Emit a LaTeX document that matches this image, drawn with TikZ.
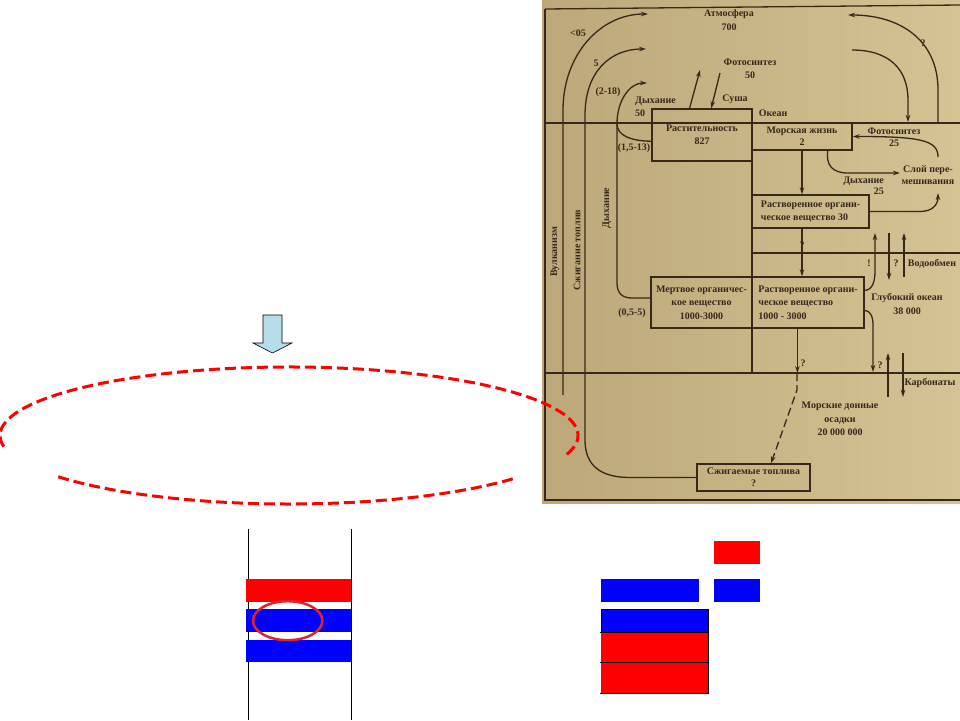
\documentclass[tikz,border=0pt]{standalone}
\usepackage{fontspec}
\setmainfont{Liberation Serif}
\usetikzlibrary{shapes,arrows.meta,positioning}
\definecolor{ink}{RGB}{55,40,26}
\definecolor{paperL}{RGB}{188,168,122}
\definecolor{paperR}{RGB}{212,195,148}
\definecolor{skyblue}{RGB}{183,221,232}
\definecolor{markred}{RGB}{225,35,40}

\begin{document}
\begin{tikzpicture}[
    x=1pt, y=-1pt,
    txt/.style={text=ink, font=\fontsize{10}{13.5}\selectfont\bfseries, inner sep=0pt, align=center},
    box/.style={rectangle, draw=ink, line width=1.4pt, text=ink, font=\fontsize{10}{13.5}\selectfont\bfseries, inner sep=1pt, align=center},
    wire/.style={draw=ink, line width=1.3pt},
    arrow/.style={->, >={Stealth[length=7pt,width=4.5pt]}, draw=ink, line width=1.3pt},
    bluebar/.style={fill=blue},
    redbar/.style={fill=red}
]
\useasboundingbox (0,0) rectangle (960,720);

% Photo of the carbon cycle
\shade[left color=paperL, right color=paperR] (542,0) rectangle (960,503);
\draw[wire] (545,9) -- (960,5);
\draw[wire] (545,9) -- (545,500) -- (960,500);
\draw[wire] (545,123) -- (960,123);
\draw[wire] (545,373) -- (960,373);
\draw[wire] (752,161) -- (752,373);
\draw[wire] (752,253) -- (960,253);

% Reservoirs
\node[box, minimum width=100, minimum height=52] (veg) at (702,135) {Растительность\\827};
\node[box, minimum width=100, minimum height=27, font=\fontsize{10}{12}\selectfont\bfseries] (sea) at (802,136.5) {Морская жизнь\\2};
\node[box, minimum width=117, minimum height=33, align=left, font=\fontsize{10}{13}\selectfont\bfseries] (doc30) at (810.5,211.5) {Растворенное органи-\\ческое вещество 30};
\node[box, minimum width=101, minimum height=51] (dead) at (701.5,302.5) {Мертвое органичес-\\кое вещество\\1000-3000};
\node[box, minimum width=112, minimum height=51, align=left] (doc) at (808,302.5) {Растворенное органи-\\ческое вещество\\1000 - 3000};
\node[box, minimum width=113, minimum height=27, font=\fontsize{10}{12}\selectfont\bfseries] (fuel) at (753.5,477.5) {Сжигаемые топлива\\?};

% Labels
\node[txt] (atm) at (729,20) {Атмосфера\\700};
\node[txt] (volcval) at (578,33) {<05};
\node[txt] (fuelval) at (596,63) {5};
\node[txt] (respval) at (608,92) {(2-18)};
\node[txt, align=left, anchor=west] (resp) at (635,107) {Дыхание\\50};
\node[txt] (photo) at (750,69) {Фотосинтез\\50};
\node[txt] (land) at (735,99) {Суша};
\node[txt] (ocean) at (773,113) {Океан};
\node[txt] (vegresp) at (634,148) {(1,5-13)};
\node[txt, font=\fontsize{10}{12}\selectfont\bfseries] (seaphoto) at (894,137) {Фотосинтез\\25};
\node[txt, align=right, anchor=east, font=\fontsize{10}{11}\selectfont\bfseries] (searesp) at (884,186) {Дыхание\\25};
\node[txt, font=\fontsize{10}{12}\selectfont\bfseries] (mix) at (928,175) {Слой пере-\\мешивания};
\node[txt] (qatm) at (923,43) {?};
\node[txt] (qdoc) at (802,245) {?};
\node[txt] (qup) at (869,263) {!};
\node[txt] (qdown) at (896,263) {?};
\node[txt] (exch) at (932,264) {Водообмен};
\node[txt] (deep) at (907,304) {Глубокий океан\\38 000};
\node[txt] (qcarb) at (880,365) {?};
\node[txt] (qsed) at (803,363) {?};
\node[txt] (carb) at (930,383) {Карбонаты};
\node[txt] (sed) at (840,419) {Морские донные\\осадки\\20 000 000};
\node[txt] (deadresp) at (632,313) {(0,5-5)};
\node[txt, rotate=90] (volc) at (555,252) {Вулканизм};
\node[txt, rotate=90] (burn) at (577,250) {Сжигание топлив};
\node[txt, rotate=90] (breath) at (607,208) {Дыхание};

% Flows to the atmosphere
\coordinate (volcfoot) at (563,395);
\coordinate (volctip) at (648,14);
\draw[arrow] (volcfoot) -- (563,110) .. controls (563,55) and (600,14) .. (volctip);
\coordinate (burntip) at (646,49);
\draw[arrow] (fuel.west) -- (630,477.5) .. controls (600,477.5) and (585,465) .. (585,440) -- (585,115) .. controls (585,72) and (610,49) .. (burntip);
\coordinate (breathtip) at (647,83);
\draw[arrow] (dead.175) -- (632,298) .. controls (622,298) and (617,293) .. (617,283) -- (617,124) .. controls (617,100) and (630,83) .. (breathtip);
\draw[wire] (veg.187) .. controls (630,141) and (617,135) .. (617,124);

% Photosynthesis on land
\coordinate (photoup) at (700,70);
\coordinate (photodown) at (720,73);
\draw[arrow] (veg.115) -- (photoup);
\draw[arrow] (photodown) -- (veg.71);

% Ocean and atmosphere
\coordinate (oceanfoot) at (938,123);
\coordinate (atmtip) at (848,15);
\draw[arrow] (oceanfoot) -- (938,90) .. controls (938,40) and (900,15) .. (atmtip);
\coordinate (atmfoot) at (852,50);
\coordinate (oceantip) at (908,122);
\draw[arrow] (atmfoot) .. controls (890,50) and (908,70) .. (908,100) -- (oceantip);

% Mixed layer
\coordinate (mixfoot) at (938,157);
\draw[arrow] (mixfoot) .. controls (938,140) and (920,136.5) .. (sea.east);
\coordinate (mixtip) at (900,173);
\draw[arrow] (sea.-29) .. controls (826,165) and (832,173) .. (848,173) -- (mixtip);
\coordinate (mixtip2) at (938,193);
\draw[arrow] (doc30.east) -- (920,211.5) .. controls (932,211.5) and (938,205) .. (mixtip2);
\draw[arrow] (sea.south) -- (sea.south |- doc30.north);
\draw[arrow] (sea.south |- doc30.south) -- (sea.south |- doc.north);

% Water exchange
\coordinate (uptop) at (875,233);
\draw[arrow] (doc.12) .. controls (870,290.5) and (875,285) .. (875,272) -- (uptop);
\coordinate (downtop) at (889,233);
\coordinate (downtip) at (889,280);
\draw[arrow] (downtop) -- (downtip);
\coordinate (upfoot) at (904,277);
\coordinate (uptip) at (904,233);
\draw[arrow] (upfoot) -- (uptip);

% Carbonates
\coordinate (carbtip) at (873,372);
\draw[arrow] (doc.-8) .. controls (870,310.5) and (873,316) .. (873,325) -- (carbtip);
\coordinate (cupfoot) at (888,397);
\coordinate (cuptip) at (888,353);
\draw[arrow] (cupfoot) -- (cuptip);
\coordinate (cdowntop) at (903,353);
\coordinate (cdowntip) at (903,397);
\draw[arrow] (cdowntop) -- (cdowntip);

% Sediments
\coordinate (sedtop) at (797,373);
\draw[arrow] (doc.-112) -- (doc.-112 |- sedtop);
\draw[arrow, dash pattern=on 8pt off 4pt] (sedtop) -- (797,390) -- (fuel.39);

% Block arrow
\draw[fill=skyblue, draw=black, line width=0.6pt] (263,315) -- (282,315) -- (282,343) -- (292,343) -- (272.5,353) -- (253,343) -- (263,343) -- cycle;

% Dashed ellipse
\draw[red, line width=3pt, dash pattern=on 11pt off 5pt] (289,435.5) ++(-16:289pt and 68.5pt) arc[start angle=-16, end angle=190, x radius=289pt, y radius=68.5pt];
\draw[red, line width=3pt, dash pattern=on 11pt off 5pt] (289,435.5) ++(217:289pt and 68.5pt) arc[start angle=217, end angle=321, x radius=289pt, y radius=68.5pt];

% Column with bars
\draw[line width=1.2pt] (248.7,529) -- (248.7,720);
\draw[line width=1.2pt] (351.3,529) -- (351.3,720);
\fill[redbar] (246,579) rectangle (351,602);
\fill[bluebar] (246,609) rectangle (351,632);
\fill[bluebar] (246,640) rectangle (351,662);
\draw[markred, line width=2.5pt] (287.7,620.7) ellipse [x radius=34.7pt, y radius=19.5pt];

% Stacked bars
\fill[redbar] (714,541) rectangle (760,564);
\fill[bluebar] (714,579) rectangle (760,602);
\fill[bluebar] (601,579) rectangle (699,602);
\fill[bluebar] (601,609) rectangle (708,632);
\fill[redbar] (601,632) rectangle (708,693);
\draw[line width=0.8pt] (601,632) -- (601,609) -- (708,609) -- (708,693) -- (600,693);
\draw[line width=0.8pt] (600,632) -- (708,632);
\draw[line width=0.8pt] (600,662) -- (708,662);

\end{tikzpicture}
\end{document}
